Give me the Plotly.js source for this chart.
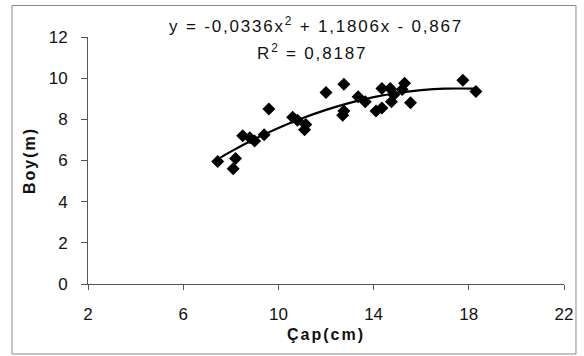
<!DOCTYPE html>
<html>
<head>
<meta charset="utf-8">
<script src="https://cdn.plot.ly/plotly-3.0.1.min.js"></script>
<style>
html,body{margin:0;padding:0;background:#fff;}
#chart{width:584px;height:356px;}
#chart .annotation-text{letter-spacing:1.8px;}
#chart .xtitle, #chart .ytitle{letter-spacing:2px;}
</style>
</head>
<body>
<div id="chart"></div>
<script>
// Observed data: diameter (cm) vs height (m)
var capX = [7.45, 8.1, 8.2, 8.5, 8.8, 9.0, 9.4, 9.6, 10.6, 10.8, 11.1, 11.15, 12.0, 12.7, 12.75, 12.75, 13.35, 13.65, 14.1, 14.35, 14.35, 14.7, 14.75, 14.85, 15.2, 15.3, 15.55, 17.75, 18.3];
var boyY = [5.95, 5.6, 6.1, 7.2, 7.1, 6.95, 7.25, 8.5, 8.1, 7.95, 7.5, 7.75, 9.3, 8.2, 8.4, 9.7, 9.1, 8.85, 8.4, 8.55, 9.5, 9.5, 8.85, 9.2, 9.45, 9.75, 8.8, 9.9, 9.35];

// Trend line as drawn in the picture
var trendX = [7.45, 8, 9, 10, 11, 12, 13, 14, 15, 16, 17, 18.3];
var trendY = [6.06, 6.43, 7.04, 7.58, 8.05, 8.46, 8.80, 9.08, 9.28, 9.42, 9.49, 9.49];

var xTicks = [2, 6, 10, 14, 18, 22];
var yTicks = [0, 2, 4, 6, 8, 10, 12];

var eqText = 'y = -0,0336x<sup>2</sup> + 1,1806x - 0,867';
var r2Text = 'R<sup>2</sup> = 0,8187';

var FONT = 'Liberation Sans, Arial, sans-serif';

var traces = [
  {
    x: capX, y: boyY, type: 'scatter', mode: 'markers',
    marker: {symbol: 'diamond', size: 10, color: '#000'},
    hoverinfo: 'skip', showlegend: false
  },
  {
    x: trendX, y: trendY, type: 'scatter', mode: 'lines',
    line: {color: '#000', width: 2.2, shape: 'spline'},
    hoverinfo: 'skip', showlegend: false
  }
];

var layout = {
  width: 584, height: 356,
  margin: {l: 88, r: 20, t: 37, b: 72, pad: 0},
  paper_bgcolor: '#fff', plot_bgcolor: '#fff',
  font: {family: FONT, size: 17, color: '#111'},
  showlegend: false,
  xaxis: {
    range: [2, 22], tickvals: xTicks, ticktext: xTicks.map(String),
    showgrid: false, zeroline: false,
    showline: true, linecolor: '#555', linewidth: 1,
    ticks: 'outside', ticklen: 5, tickcolor: '#555',
    ticklabelstandoff: 10,
    tickfont: {family: FONT, size: 17, color: '#111'},
    title: {text: '<b>Çap(cm)</b>', font: {family: FONT, size: 16, color: '#111'}, standoff: 5},
    automargin: false, fixedrange: true
  },
  yaxis: {
    range: [0, 12], tickvals: yTicks, ticktext: yTicks.map(String),
    showgrid: false, zeroline: false,
    showline: true, linecolor: '#555', linewidth: 1,
    ticks: 'outside', ticklen: 6, tickcolor: '#555',
    ticklabelstandoff: 10,
    tickfont: {family: FONT, size: 17, color: '#111'},
    title: {text: '<b>Boy(m)</b>', font: {family: FONT, size: 16, color: '#111'}, standoff: 9},
    automargin: false, fixedrange: true
  },
  shapes: [
    {type: 'rect', xref: 'paper', yref: 'paper',
     x0: -0.1597, x1: 1.0252, y0: -0.2834, y1: 1.1275,
     line: {color: '#888', width: 1}, fillcolor: 'rgba(0,0,0,0)', layer: 'below'}
  ],
  annotations: [
    {xref: 'paper', yref: 'paper', x: 0.479, y: 1.05, text: eqText, showarrow: false,
     font: {family: FONT, size: 17, color: '#111'}, xanchor: 'center', yanchor: 'middle'},
    {xref: 'paper', yref: 'paper', x: 0.47, y: 0.94, text: r2Text, showarrow: false,
     font: {family: FONT, size: 17, color: '#111'}, xanchor: 'center', yanchor: 'middle'}
  ]
};

Plotly.newPlot('chart', traces, layout, {staticPlot: true, displayModeBar: false});
</script>
</body>
</html>
